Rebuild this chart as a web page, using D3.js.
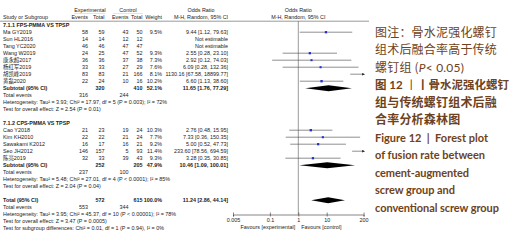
<!DOCTYPE html>
<html>
<head>
<meta charset="utf-8">
<title>Forest plot</title>
<script src="https://cdn.jsdelivr.net/npm/d3@7"></script>
<style>
  body { margin: 0; background: #fff; }
  .tbl text { font-family: "Liberation Sans", Arial, "Noto Sans CJK SC", sans-serif; font-size: 5.4px; fill: #222; }
  .tbl .b { font-weight: bold; }
  .cap text { fill: #6e4220; }
</style>
</head>
<body>
<svg width="510" height="241"></svg>
<script>
// 7.1.1 FPS-PMMA VS TPSP
var g1Study = ["Ma GY2019", "Sun HL2016", "Tang YC2020", "Wang W2019", "康永超2017", "杨红军2019", "胡凯峰2019", "黄磊2020"];
var g1ExpEvents = [58, 14, 46, 24, 36, 33, 83, 22];
var g1ExpTotal = [59, 14, 46, 25, 36, 33, 83, 24];
var g1CtlEvents = [43, 12, 47, 47, 37, 27, 21, 10];
var g1CtlTotal = [50, 12, 47, 52, 38, 29, 166, 16];
var g1Weight = [9.5, null, null, 9.3, 7.3, 7.6, 8.1, 10.2];
var g1OR = [9.44, null, null, 2.55, 2.92, 6.09, 1130.16, 6.60];
var g1Lo = [1.12, null, null, 0.28, 0.12, 0.28, 67.58, 1.13];
var g1Hi = [79.63, null, null, 23.10, 74.03, 132.36, 18899.77, 38.60];

// 7.1.2 CPS-PMMA VS TPSP
var g2Study = ["Cao Y2018", "Kim KH2010", "Sawakami K2012", "Seo JH2012", "陈亮2019"];
var g2ExpEvents = [21, 22, 16, 146, 32];
var g2ExpTotal = [23, 22, 17, 157, 33];
var g2CtlEvents = [19, 21, 16, 5, 39];
var g2CtlTotal = [24, 24, 21, 93, 43];
var g2Weight = [10.3, 7.7, 9.2, 11.4, 9.3];
var g2OR = [2.76, 7.33, 5.00, 233.60, 3.28];
var g2Lo = [0.48, 0.36, 0.52, 78.56, 0.35];
var g2Hi = [15.95, 150.35, 47.73, 694.59, 30.85];

// subtotals (group 1, group 2, overall)
var groupTitle = ["7.1.1 FPS-PMMA VS TPSP", "7.1.2 CPS-PMMA VS TPSP"];
var sumExpTotal = [320, 252, 572];
var sumCtlTotal = [410, 205, 615];
var sumWeight = [52.1, 47.9, 100.0];
var sumOR = [11.65, 10.46, 11.24];
var sumLo = [1.76, 1.09, 2.86];
var sumHi = [77.29, 100.01, 44.14];
var sumExpEvents = [316, 237, 553];
var sumCtlEvents = [244, 100, 344];
var hetText = [
  "Heterogeneity: Tau² = 3.93; Chi² = 17.97, df = 5 (P = 0.003); I² = 72%",
  "Heterogeneity: Tau² = 5.48; Chi² = 27.01, df = 4 (P < 0.0001); I² = 85%",
  "Heterogeneity: Tau² = 3.95; Chi² = 45.37, df = 10 (P < 0.00001); I² = 78%"
];
var effectText = [
  "Test for overall effect: Z = 2.54 (P = 0.01)",
  "Test for overall effect: Z = 2.04 (P = 0.04)",
  "Test for overall effect: Z = 3.47 (P = 0.0005)"
];
var subgroupDiffText = "Test for subgroup differences: Chi² = 0.01, df = 1 (P = 0.94), I² = 0%";

var axisTicks = [0.005, 0.1, 1, 10, 200];
var favourLabels = ["Favours [experimental]", "Favours [control]"];

var captionCn = ["图注：骨水泥强化螺钉", "组术后融合率高于传统", "螺钉组 (", "图 12 丨骨水泥强化螺钉", "组与传统螺钉组术后融", "合率分析森林图"];
var captionEn = ["Figure 12  |  Forest plot", "of fusion rate between", "cement-augmented", "screw group and", "conventional screw group"];
var captionEnWidth = [113, 110, 94, 80, 124];

// ---- build rows ----
var rows = [];
function addGroup(k, names, ee, et, ce, ct, w, or, lo, hi) {
  rows.push({type: "title", text: groupTitle[k]});
  names.forEach(function(n, i) {
    rows.push({type: "study", name: n, ee: ee[i], et: et[i], ce: ce[i], ct: ct[i], w: w[i], or: or[i], lo: lo[i], hi: hi[i]});
  });
  rows.push({type: "sub", name: "Subtotal (95% CI)", k: k});
  rows.push({type: "events", k: k});
  rows.push({type: "note", text: hetText[k]});
  rows.push({type: "note", text: effectText[k]});
  rows.push({type: "blank"});
}
addGroup(0, g1Study, g1ExpEvents, g1ExpTotal, g1CtlEvents, g1CtlTotal, g1Weight, g1OR, g1Lo, g1Hi);
addGroup(1, g2Study, g2ExpEvents, g2ExpTotal, g2CtlEvents, g2CtlTotal, g2Weight, g2OR, g2Lo, g2Hi);
rows.push({type: "sub", name: "Total (95% CI)", k: 2});
rows.push({type: "events", k: 2});
rows.push({type: "note", text: hetText[2]});
rows.push({type: "note", text: effectText[2]});
rows.push({type: "note", text: subgroupDiffText});

var svg = d3.select("svg");
var tbl = svg.append("g").attr("class", "tbl");

var y = d3.scaleLinear().domain([0, rows.length - 1]).range([25.2, 228.2]);
var x = d3.scaleLog().domain([0.005, 200]).range([233, 363.6]);

var col = {name: 3, ee: 88, et: 104.5, ce: 128.5, ct: 142.5, w: 162, or: 228};
var f2 = d3.format(".2f");

function txt(xp, yp, s, anchor, bold) {
  return tbl.append("text")
    .attr("x", xp).attr("y", yp).attr("dy", "0.35em")
    .attr("text-anchor", anchor || "start")
    .attr("class", bold ? "b" : null)
    .text(s);
}

// headers
txt(90, 10, "Experimental", "middle");
txt(128, 10, "Control", "middle");
txt(201, 10, "Odds Ratio", "middle");
txt(x(1), 10, "Odds Ratio", "middle");
txt(col.name, 17.5, "Study or Subgroup");
txt(col.ee, 17.5, "Events", "end");
txt(col.et, 17.5, "Total", "end");
txt(col.ce, 17.5, "Events", "end");
txt(col.ct, 17.5, "Total", "end");
txt(col.w, 17.5, "Weight", "end");
txt(201, 17.5, "M-H, Random, 95% CI", "middle");
txt(x(1), 17.5, "M-H, Random, 95% CI", "middle");

tbl.append("line").attr("x1", 74).attr("x2", 105).attr("y1", 13.5).attr("y2", 13.5)
  .attr("stroke", "#bbb").attr("stroke-width", 0.4);
tbl.append("line").attr("x1", 113).attr("x2", 143).attr("y1", 13.5).attr("y2", 13.5)
  .attr("stroke", "#bbb").attr("stroke-width", 0.4);
tbl.append("line").attr("x1", 0).attr("x2", 369).attr("y1", 21.2).attr("y2", 21.2)
  .attr("stroke", "#555").attr("stroke-width", 0.6);

// null line
tbl.append("line").attr("x1", x(1)).attr("x2", x(1)).attr("y1", 21.2).attr("y2", 214.5)
  .attr("stroke", "#555").attr("stroke-width", 0.6);

function diamond(yp, or, lo, hi) {
  var h = 3;
  tbl.append("path")
    .attr("d", "M" + x(lo) + "," + yp + "L" + x(or) + "," + (yp - h) + "L" + x(hi) + "," + yp + "L" + x(or) + "," + (yp + h) + "Z")
    .attr("fill", "#000");
}

rows.forEach(function(r, i) {
  var yp = y(i);
  if (r.type === "title") {
    txt(col.name, yp, r.text, "start", true);
  } else if (r.type === "study") {
    txt(col.name, yp, r.name);
    txt(col.ee, yp, r.ee, "end");
    txt(col.et, yp, r.et, "end");
    txt(col.ce, yp, r.ce, "end");
    txt(col.ct, yp, r.ct, "end");
    if (r.or == null) {
      txt(col.or, yp, "Not estimable", "end");
      return;
    }
    txt(col.w, yp, r.w.toFixed(1) + "%", "end");
    txt(col.or, yp, f2(r.or) + " [" + f2(r.lo) + ", " + f2(r.hi) + "]", "end");
    var lo = Math.max(r.lo, 0.005), hi = Math.min(r.hi, 200);
    tbl.append("line").attr("x1", x(lo)).attr("x2", x(hi)).attr("y1", yp).attr("y2", yp)
      .attr("stroke", "#444").attr("stroke-width", 0.6);
    if (r.hi > 200) {
      tbl.append("path")
        .attr("d", "M" + (x(200) + 1.5) + "," + yp + "l-3,-1.3l0,2.6Z")
        .attr("fill", "#222");
    }
    if (r.or <= 200) {
      var s = Math.sqrt(r.w) * 0.75;
      tbl.append("rect").attr("x", x(r.or) - s / 2).attr("y", yp - s / 2)
        .attr("width", s).attr("height", s).attr("fill", "#2233cc");
    }
  } else if (r.type === "sub") {
    var k = r.k;
    txt(col.name, yp, r.name, "start", true);
    txt(col.et, yp, sumExpTotal[k], "end", true);
    txt(col.ct, yp, sumCtlTotal[k], "end", true);
    txt(col.w, yp, sumWeight[k].toFixed(1) + "%", "end", true);
    txt(col.or, yp, f2(sumOR[k]) + " [" + f2(sumLo[k]) + ", " + f2(sumHi[k]) + "]", "end", true);
    diamond(yp, sumOR[k], sumLo[k], sumHi[k]);
  } else if (r.type === "events") {
    txt(col.name, yp, "Total events");
    txt(col.ee, yp, sumExpEvents[r.k], "end");
    txt(col.ce, yp, sumCtlEvents[r.k], "end");
  } else if (r.type === "note") {
    txt(col.name, yp, r.text);
  }
});

// axis
var axisY = 214.5;
var axis = tbl.append("g").attr("transform", "translate(0," + axisY + ")")
  .call(d3.axisBottom(x).tickValues(axisTicks).tickSize(2).tickPadding(1.5)
    .tickFormat(function(d) { return d3.format("")(d); }));
axis.attr("font-size", null).attr("font-family", null);
axis.select(".domain").attr("stroke", "#333").attr("stroke-width", 0.6);
axis.selectAll(".tick line").attr("y1", -2).attr("stroke", "#333").attr("stroke-width", 0.6);

txt(x(1) - 3, 227, favourLabels[0], "end");
txt(x(1) + 3, 227, favourLabels[1], "start");

// caption
var cap = svg.append("g").attr("class", "cap");
var lineY = d3.scaleLinear().domain([0, 10]).range([36.5, 211.5]);
captionCn.forEach(function(s, i) {
  var t = cap.append("text").attr("x", 375).attr("y", lineY(i))
    .style("font-family", "'Noto Sans CJK SC', sans-serif")
    .style("font-size", "12px")
    .style("letter-spacing", "0.2px")
    .style("font-weight", i >= 3 ? "bold" : "normal");
  if (i === 2) {
    t.append("tspan").text(s);
    t.append("tspan").style("font-family", "Lato, sans-serif").style("font-style", "italic").text("P");
    t.append("tspan").style("font-family", "Lato, sans-serif").text("< 0.05)");
  } else if (i === 3) {
    t.style("letter-spacing", "0px").style("font-size", "11.5px").style("white-space", "pre");
    t.append("tspan").text("图");
    t.append("tspan").style("font-family", "Lato, sans-serif").text(" 12 ");
    t.append("tspan").style("font-weight", "normal").text("丨");
    t.append("tspan").text(s.slice(5));
  } else {
    t.text(s);
  }
});
captionEn.forEach(function(s, i) {
  cap.append("text").attr("x", 375).attr("y", lineY(i + 6))
    .style("font-family", "Lato, sans-serif")
    .style("font-size", "11px")
    .style("font-weight", "bold")
    .style("white-space", "pre")
    .attr("textLength", captionEnWidth[i])
    .attr("lengthAdjust", "spacing")
    .text(s);
});
</script>
</body>
</html>
